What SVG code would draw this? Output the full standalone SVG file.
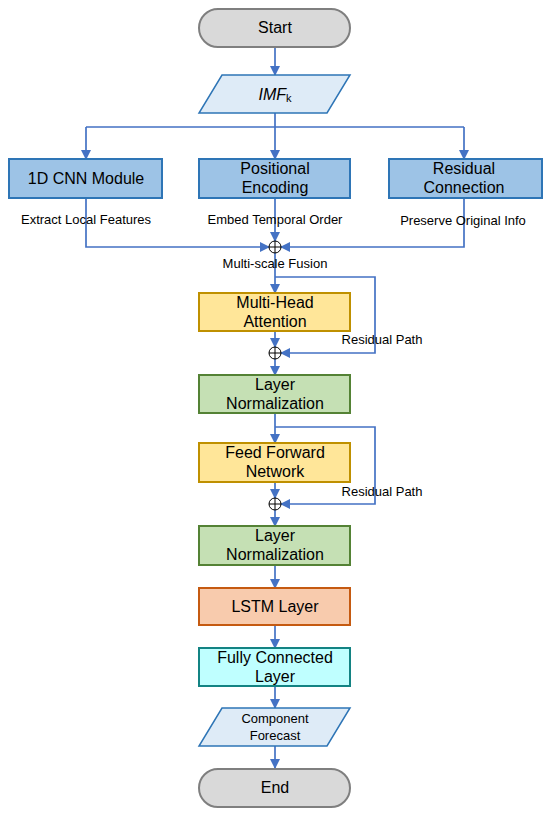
<svg xmlns="http://www.w3.org/2000/svg" width="550" height="816" viewBox="0 0 550 816">
<style>
text{font-family:"Liberation Sans",Arial,sans-serif;fill:#000;text-anchor:middle}
.t{font-size:16px}
.s{font-size:13px}
.blue{fill:#9DC3E6;stroke:#2E75B6;stroke-width:2}
.yel{fill:#FFE699;stroke:#BF9000;stroke-width:2}
.grn{fill:#C5E0B4;stroke:#548235;stroke-width:2}
.org{fill:#F8CBAD;stroke:#C55A11;stroke-width:2}
.cyn{fill:#BFFFFF;stroke:#138383;stroke-width:2}
.gry{fill:#D9D9D9;stroke:#7F7F7F;stroke-width:2}
.io{fill:#DEEBF7;stroke:#2E75B6;stroke-width:1.5}
.c{fill:none;stroke:#4472C4;stroke-width:1.7}
.ar{marker-end:url(#ah)}
.sum{fill:#fff;stroke:#000;stroke-width:1}
</style>
<defs>
<marker id="ah" markerWidth="10" markerHeight="10" refX="9" refY="5" orient="auto" markerUnits="userSpaceOnUse">
<path d="M0,0 L10,5 L0,10 z" fill="#4472C4"/>
</marker>
</defs>

<g id="connectors">
<path class="c ar" d="M275,47 V75"/>
<path class="c" d="M275,113 V127 M86,127 H464"/>
<path class="c ar" d="M86,127 V159"/>
<path class="c ar" d="M275,127 V159"/>
<path class="c ar" d="M464,127 V159"/>
<path class="c ar" d="M86,198 V247 H269"/>
<path class="c ar" d="M275,198 V241"/>
<path class="c ar" d="M464,198 V247 H281"/>
<path class="c ar" d="M275,253 V293"/>
<path class="c ar" d="M275,277 H375 V353 H281"/>
<path class="c ar" d="M275,331 V347"/>
<path class="c ar" d="M275,359 V375"/>
<path class="c ar" d="M275,413 V443"/>
<path class="c ar" d="M275,427 H375 V504 H281"/>
<path class="c ar" d="M275,482 V498"/>
<path class="c ar" d="M275,510 V526"/>
<path class="c ar" d="M275,565 V588"/>
<path class="c ar" d="M275,625 V648"/>
<path class="c ar" d="M275,686 V708"/>
<path class="c ar" d="M275,746 V768"/>
</g>

<g id="sum1"><circle class="sum" cx="275" cy="247" r="6"/><path d="M269,247 H281 M275,241 V253" stroke="#000" stroke-width="1"/></g>
<g id="sum2"><circle class="sum" cx="275" cy="353" r="6"/><path d="M269,353 H281 M275,347 V359" stroke="#000" stroke-width="1"/></g>
<g id="sum3"><circle class="sum" cx="275" cy="504" r="6"/><path d="M269,504 H281 M275,498 V510" stroke="#000" stroke-width="1"/></g>

<g id="labels">
<text class="s" x="86" y="224">Extract Local Features</text>
<text class="s" x="275" y="224">Embed Temporal Order</text>
<text class="s" x="463" y="225">Preserve Original Info</text>
<text class="s" x="275" y="268">Multi-scale Fusion</text>
<text class="s" x="382" y="344">Residual Path</text>
<text class="s" x="382" y="496">Residual Path</text>
</g>

<g id="start"><rect class="gry" x="199" y="9" width="151" height="38" rx="19"/><text class="t" x="275" y="33">Start</text></g>
<g id="imf"><path class="io" d="M222,75 H350 L327,113 H199 Z"/><text class="t" x="275" y="100"><tspan font-style="italic">IMF</tspan><tspan font-size="11" dy="2">k</tspan></text></g>
<g id="cnn"><rect class="blue" x="9" y="159" width="153" height="39"/><text class="t" x="86" y="184">1D CNN Module</text></g>
<g id="pos"><rect class="blue" x="199" y="159" width="151" height="39"/><text class="t" x="275" y="174">Positional</text><text class="t" x="275" y="193">Encoding</text></g>
<g id="res"><rect class="blue" x="389" y="159" width="153" height="39"/><text class="t" x="464" y="174">Residual</text><text class="t" x="464" y="193">Connection</text></g>
<g id="mha"><rect class="yel" x="199" y="293" width="151" height="38"/><text class="t" x="275" y="308">Multi-Head</text><text class="t" x="275" y="327">Attention</text></g>
<g id="ln1"><rect class="grn" x="199" y="375" width="151" height="38"/><text class="t" x="275" y="390">Layer</text><text class="t" x="275" y="409">Normalization</text></g>
<g id="ffn"><rect class="yel" x="199" y="443" width="151" height="39"/><text class="t" x="275" y="458">Feed Forward</text><text class="t" x="275" y="477">Network</text></g>
<g id="ln2"><rect class="grn" x="199" y="526" width="151" height="39"/><text class="t" x="275" y="541">Layer</text><text class="t" x="275" y="560">Normalization</text></g>
<g id="lstm"><rect class="org" x="199" y="588" width="151" height="37"/><text class="t" x="275" y="612">LSTM Layer</text></g>
<g id="fc"><rect class="cyn" x="199" y="648" width="151" height="38"/><text class="t" x="275" y="663">Fully Connected</text><text class="t" x="275" y="682">Layer</text></g>
<g id="out"><path class="io" d="M222,708 H350 L327,746 H199 Z"/><text class="s" x="275" y="723">Component</text><text class="s" x="275" y="740">Forecast</text></g>
<g id="end"><rect class="gry" x="199" y="769" width="151" height="38" rx="19"/><text class="t" x="275" y="793">End</text></g>
</svg>
